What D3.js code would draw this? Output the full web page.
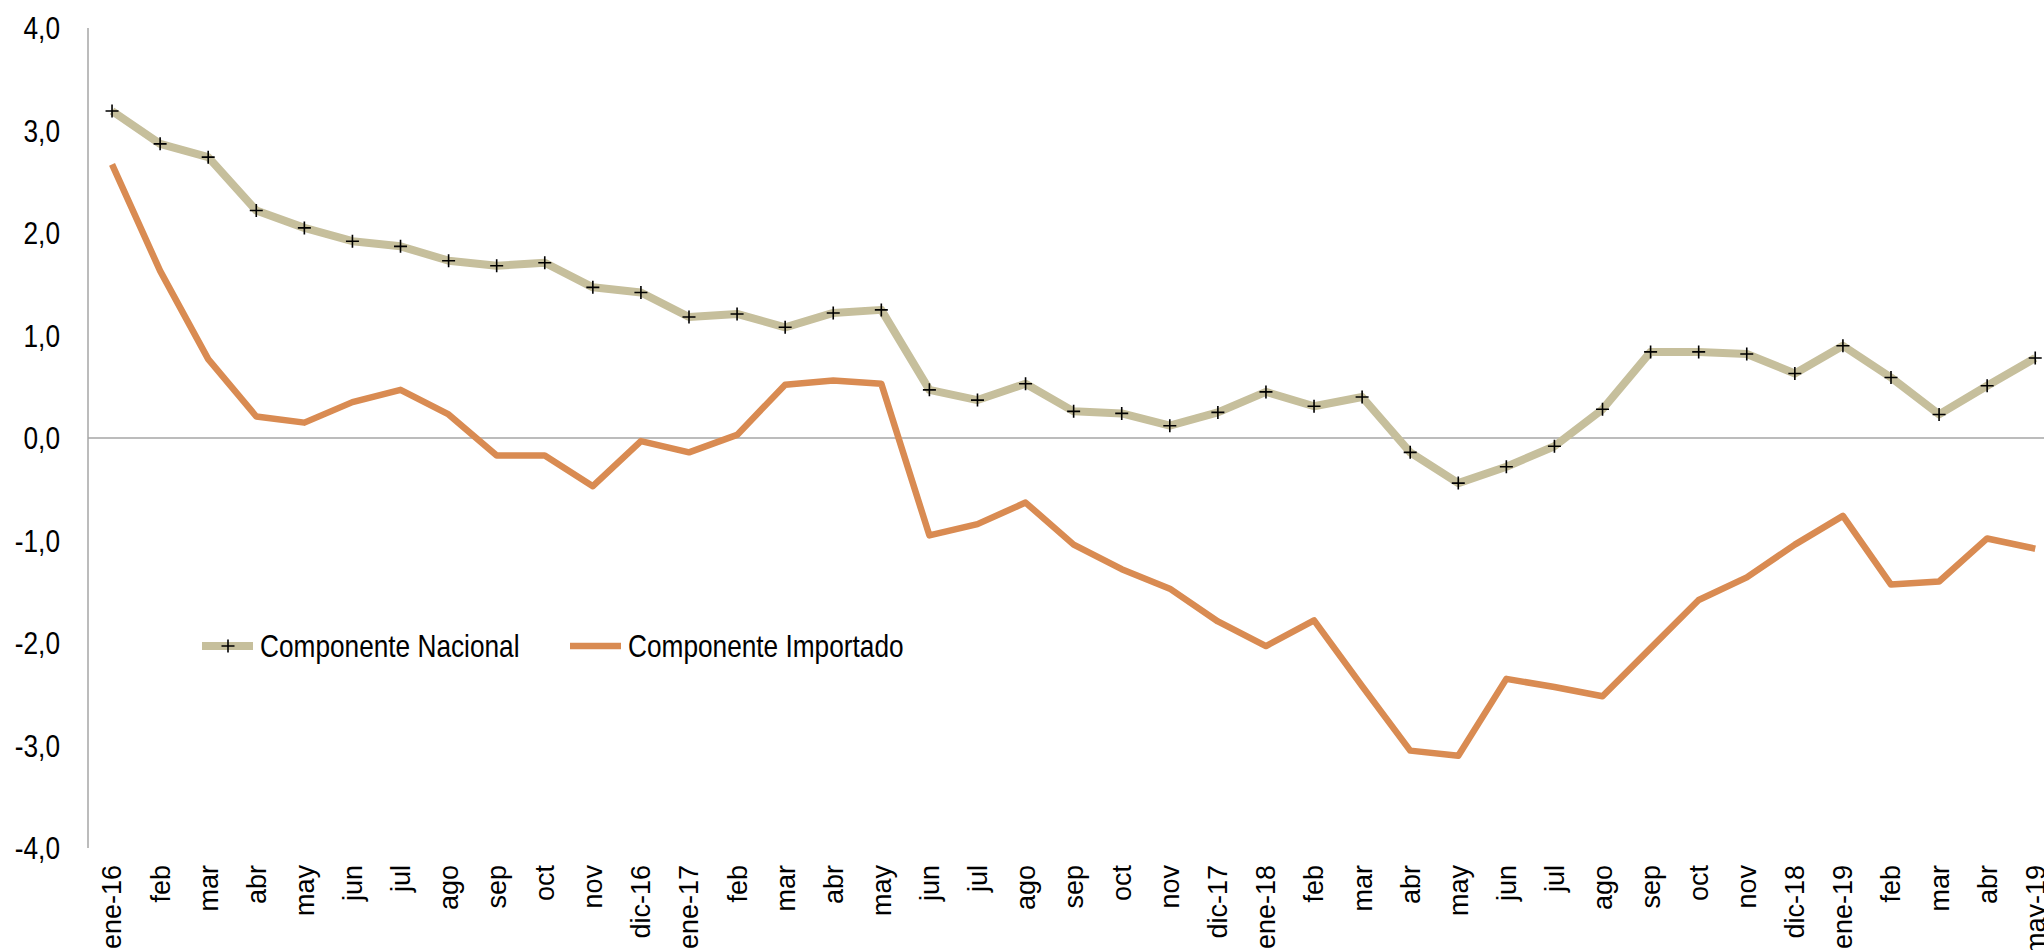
<!DOCTYPE html>
<html>
<head>
<meta charset="utf-8">
<script src="https://cdn.jsdelivr.net/npm/d3@7"></script>
<style>
  html, body { margin: 0; padding: 0; background: #ffffff; }
  svg { display: block; }
  text { font-family: "Liberation Sans", Arial, sans-serif; fill: #000; }
</style>
</head>
<body>
<script>
// ---- Data ----
const categories = [
  "ene-16","feb","mar","abr","may","jun","jul","ago","sep","oct","nov","dic-16",
  "ene-17","feb","mar","abr","may","jun","jul","ago","sep","oct","nov","dic-17",
  "ene-18","feb","mar","abr","may","jun","jul","ago","sep","oct","nov","dic-18",
  "ene-19","feb","mar","abr","may-19"
];
const nacional = [
  3.19, 2.87, 2.74, 2.22, 2.05, 1.92, 1.87, 1.73, 1.68, 1.71, 1.47, 1.42,
  1.18, 1.21, 1.08, 1.22, 1.25, 0.47, 0.37, 0.53, 0.26, 0.24, 0.12, 0.25,
  0.45, 0.31, 0.40, -0.14, -0.44, -0.28, -0.08, 0.28, 0.84, 0.84, 0.82, 0.63,
  0.90, 0.59, 0.23, 0.51, 0.78
];
const importado = [
  2.67, 1.63, 0.77, 0.21, 0.15, 0.35, 0.47, 0.23, -0.17, -0.17, -0.47, -0.03,
  -0.14, 0.03, 0.52, 0.56, 0.53, -0.95, -0.84, -0.63, -1.04, -1.28, -1.47, -1.79,
  -2.03, -1.78, -2.42, -3.05, -3.10, -2.35, -2.43, -2.52, -2.05, -1.58, -1.36, -1.04,
  -0.76, -1.43, -1.40, -0.98, -1.08
];
const yTicks = [-4, -3, -2, -1, 0, 1, 2, 3, 4];
const seriesNames = ["Componente Nacional", "Componente Importado"];

// ---- Layout ----
const W = 2044, H = 950;
const colNac = "#C6BF9C", colImp = "#D98B52", axisCol = "#A6A6A6";
const narrow = 0.82;

const svg = d3.select("body").append("svg").attr("width", W).attr("height", H);

const x = d3.scaleBand().domain(d3.range(categories.length)).range([88, 88 + 41 * 48.08]).padding(0);
const y = d3.scaleLinear().domain([-4, 4]).range([848, 28]);
const cx = i => x(i) + x.bandwidth() / 2;

const loc = d3.formatLocale({ decimal: ",", thousands: ".", grouping: [3], currency: ["", ""], minus: "-" });
const fmt = loc.format(".1f");

// y axis line
svg.append("line").attr("x1", 88).attr("x2", 88).attr("y1", y(4)).attr("y2", y(-4))
  .attr("stroke", axisCol).attr("stroke-width", 1.5);
// zero line
svg.append("line").attr("x1", 88).attr("x2", W).attr("y1", y(0)).attr("y2", y(0))
  .attr("stroke", axisCol).attr("stroke-width", 1.5);

// y tick labels (condensed)
svg.append("g").selectAll("text").data(yTicks).join("text")
  .attr("transform", d => `translate(60,${y(d)}) scale(${narrow},1)`)
  .attr("dy", "0.35em").attr("text-anchor", "end").attr("font-size", 32).text(d => fmt(d));

// x labels
svg.append("g").selectAll("text").data(categories).join("text")
  .attr("transform", (d, i) => `translate(${cx(i)},865) rotate(-90)`)
  .attr("dy", "0.35em").attr("text-anchor", "end").attr("font-size", 27).text(d => d);

// lines
const line = d3.line().x((d, i) => cx(i)).y(d => y(d));
svg.append("path").datum(importado).attr("d", line).attr("fill", "none")
  .attr("stroke", colImp).attr("stroke-width", 6.5).attr("stroke-linejoin", "round");
svg.append("path").datum(nacional).attr("d", line).attr("fill", "none")
  .attr("stroke", colNac).attr("stroke-width", 8).attr("stroke-linejoin", "round");

// plus markers
const crossPath = (cxp, cyp, s) => `M${cxp - s},${cyp}H${cxp + s}M${cxp},${cyp - s}V${cyp + s}`;
svg.append("g").selectAll("path").data(nacional).join("path")
  .attr("d", (d, i) => crossPath(cx(i), y(d), 6.5))
  .attr("stroke", "#000").attr("stroke-width", 1.6).attr("fill", "none");

// legend
const lg = svg.append("g");
const ly = 646;
lg.append("line").attr("x1", 202).attr("x2", 253).attr("y1", ly).attr("y2", ly)
  .attr("stroke", colNac).attr("stroke-width", 8);
lg.append("path").attr("d", crossPath(228, ly, 6.5)).attr("stroke", "#000").attr("stroke-width", 1.6);
lg.append("text").attr("transform", `translate(260,${ly}) scale(${narrow},1)`).attr("dy", "0.35em")
  .attr("font-size", 32).text(seriesNames[0]);
lg.append("line").attr("x1", 570).attr("x2", 621).attr("y1", ly).attr("y2", ly)
  .attr("stroke", colImp).attr("stroke-width", 6.5);
lg.append("text").attr("transform", `translate(628,${ly}) scale(${narrow},1)`).attr("dy", "0.35em")
  .attr("font-size", 32).text(seriesNames[1]);
</script>
</body>
</html>
